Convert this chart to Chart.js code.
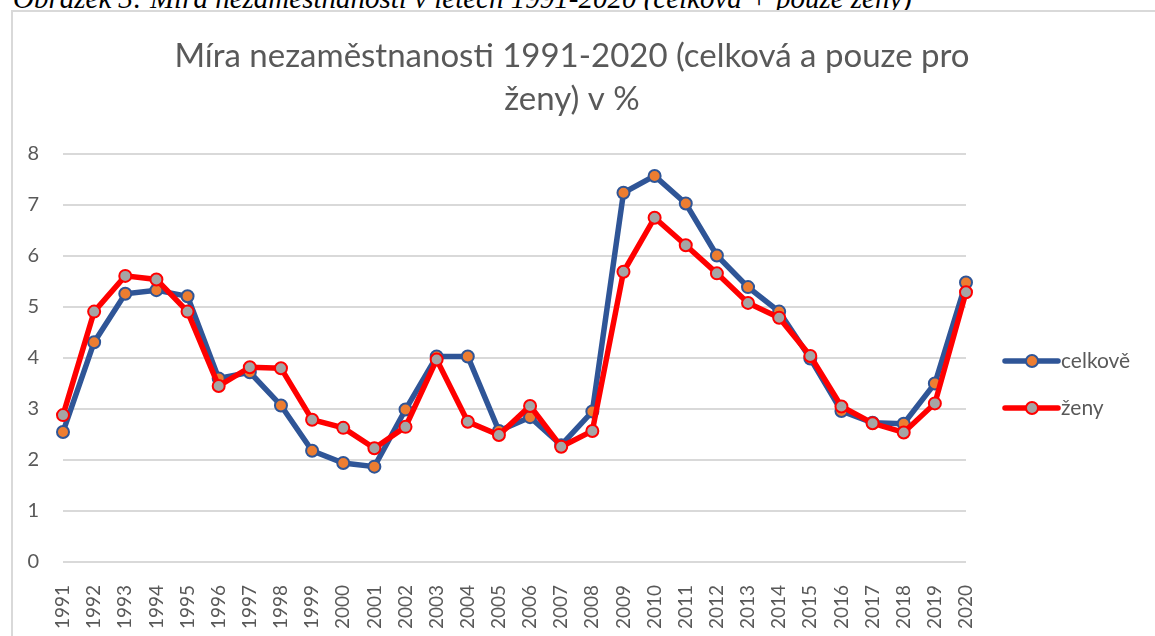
<!DOCTYPE html>
<html lang="cs">
<head>
<meta charset="utf-8">
<title>Míra nezaměstnanosti 1991-2020</title>
<script src="https://cdn.jsdelivr.net/npm/chart.js@4.4.1/dist/chart.umd.min.js"></script>
<style>
    html, body { margin: 0; padding: 0; background: #fff; overflow: hidden; }
    body { width: 1155px; height: 636px; position: relative; }
    #caption {
        position: absolute; left: 13px; top: -18px;
        font: italic 29px "Liberation Serif", "DejaVu Serif", serif;
        color: #000; white-space: nowrap;
    }
    #box {
        position: absolute; left: 11px; top: 10px; right: 0; bottom: 0;
        border-left: 2px solid #d9d9d9; border-top: 2px solid #d9d9d9;
        background: #fff;
    }
    #wrap { position: absolute; left: 0; top: 0; width: 1142px; height: 624px; }
</style>
</head>
<body>
<div id="caption">Obrázek 3: Míra nezaměstnanosti v letech 1991-2020 (celková + pouze ženy)</div>
<div id="box"><div id="wrap"><canvas id="chart"></canvas></div></div>
<script>
const years = ['1991', '1992', '1993', '1994', '1995', '1996', '1997', '1998', '1999', '2000',
    '2001', '2002', '2003', '2004', '2005', '2006', '2007', '2008', '2009', '2010',
    '2011', '2012', '2013', '2014', '2015', '2016', '2017', '2018', '2019', '2020'];
const celkove = [2.55, 4.31, 5.26, 5.33, 5.21, 3.60, 3.72, 3.07, 2.18, 1.94,
    1.87, 2.99, 4.03, 4.03, 2.57, 2.84, 2.29, 2.95, 7.24, 7.57,
    7.03, 6.01, 5.39, 4.91, 3.99, 2.96, 2.73, 2.71, 3.50, 5.48];
const zeny = [2.88, 4.91, 5.61, 5.54, 4.91, 3.45, 3.82, 3.80, 2.79, 2.63,
    2.23, 2.65, 3.97, 2.75, 2.49, 3.06, 2.26, 2.57, 5.69, 6.75,
    6.21, 5.66, 5.08, 4.79, 4.04, 3.05, 2.72, 2.54, 3.11, 5.29];
const yTicks = [0, 1, 2, 3, 4, 5, 6, 7, 8];
const titleLines = ['Míra nezaměstnanosti 1991-2020 (celková a pouze pro', 'ženy) v %'];

const textColor = '#595959';
const gridColor = '#d9d9d9';
const fontFamily = "Lato, 'Open Sans', sans-serif";

// title is centred on the whole chart box, not only on the plot
const titleCenter = {
    id: 'titleCenter',
    afterLayout(chart) {
        chart.titleBlock.left = 0;
        chart.titleBlock.right = 1118;
    }
};

// legend like Excel: line with marker in the middle
const excelLegend = {
    id: 'excelLegend',
    afterDraw(chart) {
        const ctx = chart.ctx;
        const x0 = chart.chartArea.right + 39;
        const rows = [349, 396];
        ctx.save();
        chart.data.datasets.forEach((ds, i) => {
            const y = rows[i];
            ctx.strokeStyle = ds.borderColor;
            ctx.lineWidth = ds.borderWidth;
            ctx.lineCap = 'round';
            ctx.beginPath();
            ctx.moveTo(x0, y);
            ctx.lineTo(x0 + 53, y);
            ctx.stroke();
            ctx.beginPath();
            ctx.arc(x0 + 27, y, ds.pointRadius, 0, Math.PI * 2);
            ctx.fillStyle = ds.pointBackgroundColor;
            ctx.fill();
            ctx.lineWidth = ds.pointBorderWidth;
            ctx.strokeStyle = ds.pointBorderColor;
            ctx.stroke();
            ctx.fillStyle = textColor;
            ctx.font = '21px ' + fontFamily;
            ctx.textBaseline = 'middle';
            ctx.fillText(ds.label, x0 + 56, y);
        });
        ctx.restore();
    }
};

new Chart(document.getElementById('chart'), {
    type: 'line',
    data: {
        labels: years,
        datasets: [
            {
                label: 'celkově', data: celkove, order: 1,
                borderColor: '#2f5597', borderWidth: 5.5,
                pointBackgroundColor: '#ed7d31', pointBorderColor: '#2f5597',
                pointBorderWidth: 2, pointRadius: 6, tension: 0
            },
            {
                label: 'ženy', data: zeny, order: 0,
                borderColor: '#ff0000', borderWidth: 5.5,
                pointBackgroundColor: '#a5a5a5', pointBorderColor: '#ff0000',
                pointBorderWidth: 2, pointRadius: 6, tension: 0
            }
        ]
    },
    options: {
        responsive: true,
        maintainAspectRatio: false,
        animation: false,
        layout: { padding: { left: 0, right: 189, top: 0, bottom: 0 } },
        plugins: {
            legend: { display: false },
            tooltip: { enabled: false },
            title: {
                display: true, text: titleLines, color: textColor,
                font: { family: fontFamily, size: 33, weight: 'normal', lineHeight: '43px' },
                padding: { top: 23, bottom: 33 }
            }
        },
        scales: {
            x: {
                grid: { display: false },
                border: { display: false },
                ticks: { color: textColor, font: { family: fontFamily, size: 19 }, minRotation: 90, maxRotation: 90, padding: 15, autoSkip: false },
                afterFit(scale) { scale.height = 74; }
            },
            y: {
                min: 0, max: 8,
                afterBuildTicks(scale) { scale.ticks = yTicks.map(v => ({ value: v })); },
                grid: { color: gridColor, lineWidth: 2, drawTicks: false },
                border: { display: false },
                ticks: { color: textColor, font: { family: fontFamily, size: 20 }, padding: 24 },
                afterFit(scale) { scale.width = 50; }
            }
        }
    },
    plugins: [titleCenter, excelLegend]
});
</script>
</body>
</html>
